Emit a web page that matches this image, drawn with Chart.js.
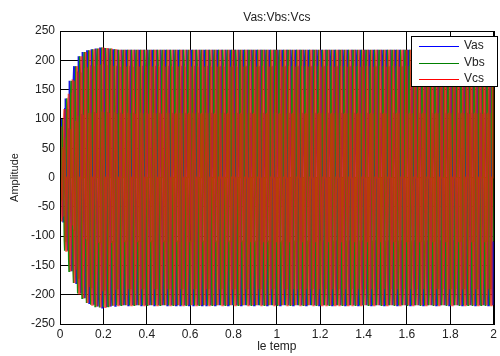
<!DOCTYPE html>
<html>
<head>
<meta charset="utf-8">
<script src="https://cdn.jsdelivr.net/npm/chart.js@4/dist/chart.umd.min.js"></script>
<style>
  html, body { margin: 0; padding: 0; background: #fff; }
  #wrap { width: 500px; height: 356px; }
</style>
</head>
<body>
<div id="wrap"><canvas id="myChart" width="500" height="356"></canvas></div>
<script>
// one 50 Hz period sampled every 30 degrees, as a fraction of the peak
var patternVas = [0, 0.5, 0.866, 1, 0.866, 0.5, 0, -0.5, -0.866, -1, -0.866, -0.5];
var patternVbs = [-0.866, -1, -0.866, -0.5, 0, 0.5, 0.866, 1, 0.866, 0.5, 0, -0.5];
var patternVcs = [0.866, 0.5, 0, -0.5, -0.866, -1, -0.866, -0.5, 0, 0.5, 0.866, 1];

// peak for each of the 100 periods (upper and lower edge)
var peakTop = [
    100, 135, 165, 190, 207, 214, 217, 219, 220, 222,
    221, 220, 219, 218, 218, 218, 218, 218, 218, 218,
    218, 218, 218, 218, 218, 218, 218, 218, 218, 218,
    218, 218, 218, 218, 218, 218, 218, 218, 218, 218,
    218, 218, 218, 218, 218, 218, 218, 218, 218, 218,
    218, 218, 218, 218, 218, 218, 218, 218, 218, 218,
    218, 218, 218, 218, 218, 218, 218, 218, 218, 218,
    218, 218, 218, 218, 218, 218, 218, 218, 218, 218,
    218, 218, 218, 218, 218, 218, 218, 218, 218, 218,
    218, 218, 218, 218, 218, 218, 218, 218, 218, 218
];
var peakBottom = [
    75, 125, 160, 180, 198, 206, 214, 217, 220, 222,
    221, 220, 219, 218, 218, 218, 218, 218, 218, 218,
    218, 218, 218, 218, 218, 218, 218, 218, 218, 218,
    218, 218, 218, 218, 218, 218, 218, 218, 218, 218,
    218, 218, 218, 218, 218, 218, 218, 218, 218, 218,
    218, 218, 218, 218, 218, 218, 218, 218, 218, 218,
    218, 218, 218, 218, 218, 218, 218, 218, 218, 218,
    218, 218, 218, 218, 218, 218, 218, 218, 218, 218,
    218, 218, 218, 218, 218, 218, 218, 218, 218, 218,
    218, 218, 218, 218, 218, 218, 218, 218, 218, 218
];

var period = 0.02;
var xTicks = [0, 0.2, 0.4, 0.6, 0.8, 1, 1.2, 1.4, 1.6, 1.8, 2];
var yTicks = [-250, -200, -150, -100, -50, 0, 50, 100, 150, 200, 250];
var seriesColors = ['#0000ff', '#008000', '#ff0000'];
// the red trace is drawn a little see-through so the dense overlap reads brown/purple like the original
var lineColors = ['#1818e0', '#109010', 'rgba(255,30,0,0.7)'];
var lineWidths = [2, 1.5, 2];

function buildSeries(pattern) {
    var pts = [];
    for (var k = 0; k < peakTop.length; k++) {
        for (var j = 0; j < pattern.length; j++) {
            var f = pattern[j];
            var peak = f >= 0 ? peakTop[k] : peakBottom[k];
            pts.push({ x: k * period + j * period / pattern.length, y: f * peak });
        }
    }
    return pts;
}

var boxAndLegend = {
    id: 'boxAndLegend',
    afterDatasetsDraw: function (chart) {
        var c = chart.ctx, a = chart.chartArea;
        c.save();
        c.strokeStyle = '#000';
        c.lineWidth = 1;
        c.strokeRect(Math.round(a.left) + 0.5, Math.round(a.top) + 0.5,
                     Math.round(a.right - a.left), Math.round(a.bottom - a.top));
        // legend box in the upper right corner
        var lx = 411.5, ly = 36.5, lw = 86, lh = 50;
        c.fillStyle = '#fff';
        c.fillRect(lx, ly, lw, lh);
        c.strokeRect(lx, ly, lw, lh);
        c.font = '12px Arial, "Liberation Sans", sans-serif';
        c.textBaseline = 'middle';
        for (var i = 0; i < chart.data.datasets.length; i++) {
            var y = Math.round(46 + i * 16.7);
            c.fillStyle = seriesColors[i];
            c.fillRect(419, y, 40, 1);
            c.fillStyle = '#222';
            c.fillText(chart.data.datasets[i].label, 464, y);
        }
        c.restore();
    }
};

var ctx = document.getElementById('myChart').getContext('2d');
window.myChart = new Chart(ctx, {
    type: 'line',
    data: {
        datasets: [
            { label: 'Vas', data: buildSeries(patternVas), borderColor: lineColors[0], borderWidth: lineWidths[0], order: 2 },
            { label: 'Vbs', data: buildSeries(patternVbs), borderColor: lineColors[1], borderWidth: lineWidths[1], order: 1 },
            { label: 'Vcs', data: buildSeries(patternVcs), borderColor: lineColors[2], borderWidth: lineWidths[2], order: 0 }
        ]
    },
    options: {
        responsive: false,
        animation: false,
        parsing: false,
        normalized: true,
        elements: {
            line: { tension: 0, fill: false },
            point: { radius: 0 }
        },
        layout: { padding: { right: 3 } },
        plugins: {
            legend: { display: false },
            tooltip: { enabled: false },
            title: {
                display: true,
                text: 'Vas:Vbs:Vcs',
                color: '#222',
                font: { size: 12, family: 'Arial, "Liberation Sans", sans-serif', weight: 'normal', lineHeight: 1.2 },
                padding: { top: 10, bottom: 6.6 },
                fullSize: false
            }
        },
        scales: {
            x: {
                type: 'linear',
                min: 0,
                max: 2,
                afterFit: function (s) { s.height = 32; },
                afterBuildTicks: function (s) { s.ticks = xTicks.map(function (v) { return { value: v }; }); },
                ticks: {
                    color: '#222',
                    padding: 3,
                    maxRotation: 0,
                    font: { size: 12, family: 'Arial, "Liberation Sans", sans-serif' },
                    callback: function (v) { return String(v); }
                },
                grid: { color: '#000', borderDash: [1, 3], drawTicks: false },
                border: { display: true, color: '#000' },
                title: {
                    display: true,
                    text: 'le temp',
                    color: '#222',
                    padding: { top: 0, bottom: 2 },
                    font: { size: 12, family: 'Arial, "Liberation Sans", sans-serif' }
                }
            },
            y: {
                min: -250,
                max: 250,
                afterFit: function (s) { s.width = 60; },
                afterBuildTicks: function (s) { s.ticks = yTicks.map(function (v) { return { value: v }; }); },
                ticks: {
                    color: '#222',
                    padding: 5,
                    font: { size: 12, family: 'Arial, "Liberation Sans", sans-serif' }
                },
                grid: { color: '#000', borderDash: [1, 3], drawTicks: false },
                border: { display: true, color: '#000' },
                title: {
                    display: true,
                    text: 'Amplitude',
                    color: '#222',
                    padding: { top: 8, bottom: 0 },
                    font: { size: 11, family: 'Arial, "Liberation Sans", sans-serif' }
                }
            }
        }
    },
    plugins: [boxAndLegend]
});
</script>
</body>
</html>
